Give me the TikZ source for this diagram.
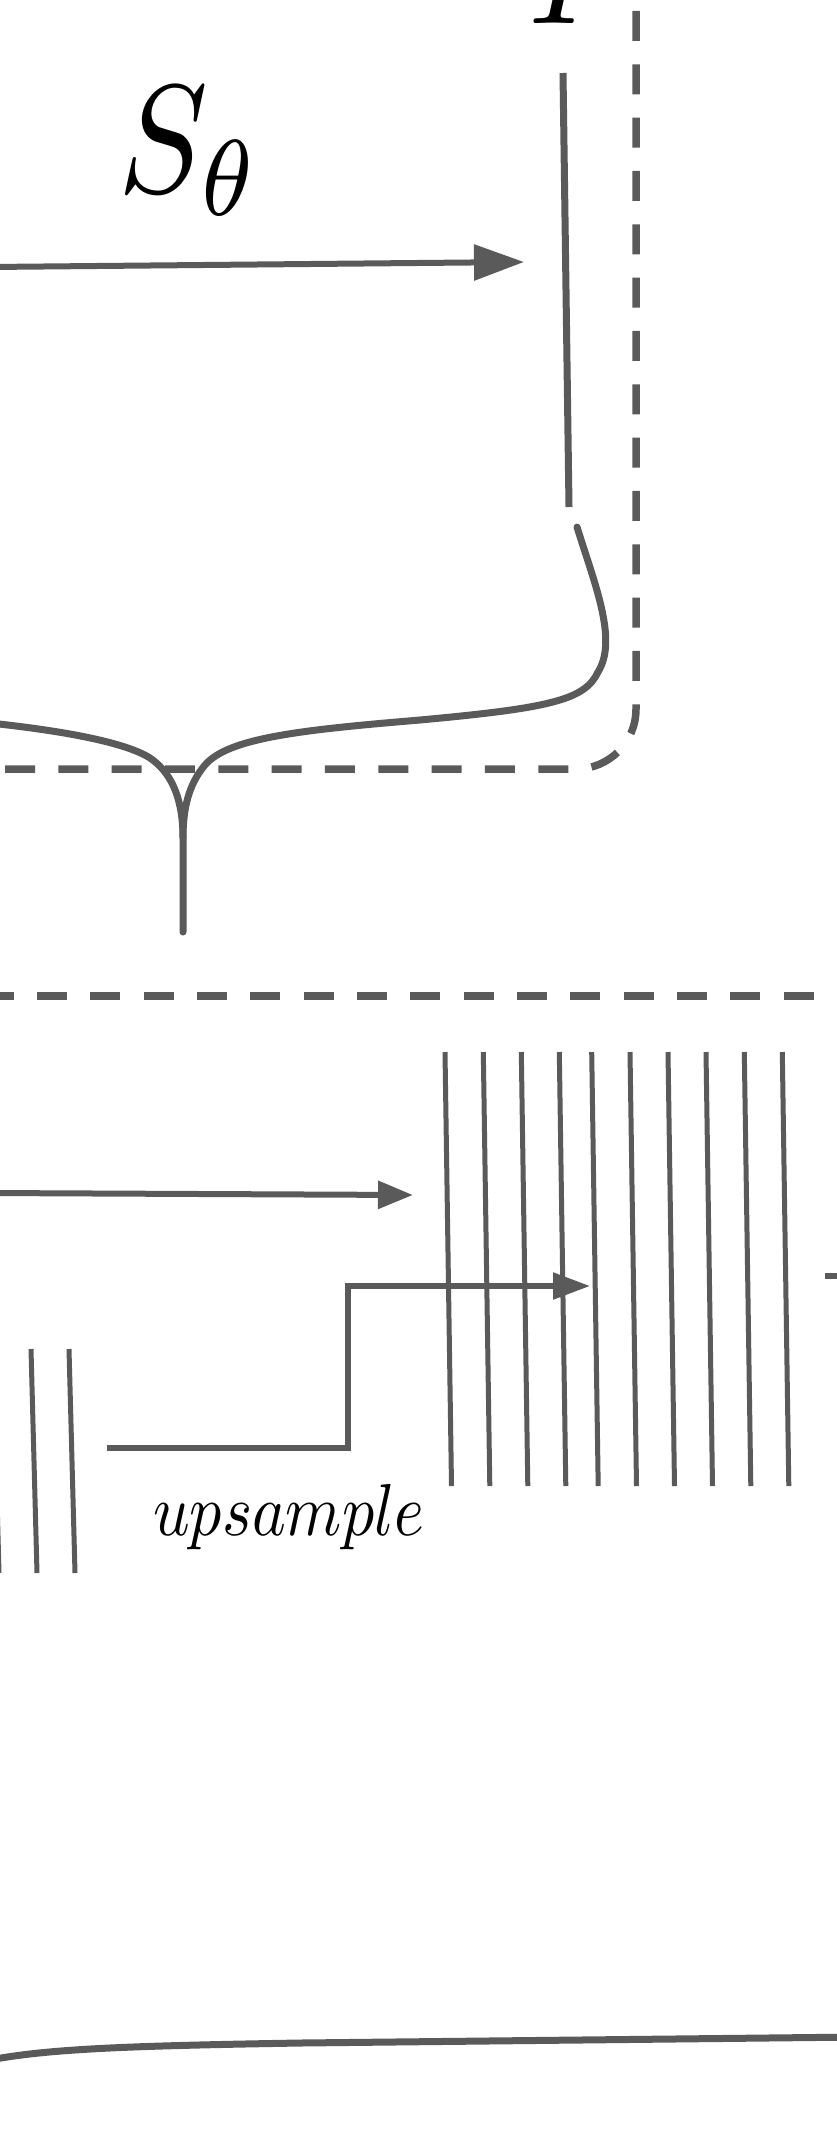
\documentclass[tikz,border=0pt]{standalone}
\usepackage{tikz}
\usetikzlibrary{arrows.meta}
\definecolor{ink}{HTML}{5A5A5A}
\tikzset{
  wire/.style={draw=ink, line width=6pt},
  strand/.style={draw=ink, line width=5pt},
  boxline/.style={draw=ink, line width=7.5pt, dash pattern=on 30pt off 23.33pt},
  brace/.style={draw=ink, line width=7pt, line cap=round},
  bigm/.style={inner sep=0pt, xscale=13.4, yscale=15.41, anchor=base west},
  labm/.style={inner sep=0pt, xscale=6.4, yscale=7.36, anchor=base west},
  every node/.style={text=black}
}

\begin{document}
\begin{tikzpicture}[x=1pt,y=-1pt]
  \useasboundingbox (0,0) rectangle (837,2149);

  % labels
  \node[bigm] (stheta) at (116,192) {$S_\theta$};
  \node[bigm] (img) at (527,24) {$I$};
  \node[labm] (up) at (152,1535) {$upsample$};

  % top: arrow into the image column
  \coordinate (src) at (-10,267);
  \coordinate (tgt) at (524,262);
  \draw[wire,-{Triangle[length=50pt,width=35pt]}] (src) -- (tgt);
  \coordinate (ctop) at (563,73);
  \coordinate (cbot) at (569,507);
  \draw[draw=ink, line width=7pt] (ctop) -- (cbot);

  % dashed boxes
  \draw[boxline, rounded corners=60pt] (5,769) -- (636,769) -- (636,-20);
  \draw[boxline] (-16.33,996) -- (860,996);

  % brace
  \coordinate (cusp) at (183,838);
  \coordinate (tip) at (183,932);
  \draw[brace] (577,527) .. controls (595,585) and (618,640) .. (598,672)
    .. controls (585,700) and (550,708) .. (420,720)
    .. controls (300,730) and (228,738) .. (205,765)
    .. controls (188,785) and (183,810) .. (cusp) -- (tip);
  \draw[brace] (cusp) .. controls (183,805) and (175,775) .. (150,758)
    .. controls (125,742) and (60,730) .. (-20,722);

  % channel strands
  \foreach \xt in {445,483.3,521.3,559.3,591.7,630,668,706,744.3,782.3}
    \draw[strand] (\xt,1052) -- (\xt+6.5,1486);
  \foreach \xt in {-7,31,69}
    \draw[strand] (\xt,1349) -- (\xt+6,1573);

  % skip and upsample arrows
  \coordinate (skipin) at (-10,1193);
  \coordinate (skipout) at (413,1195);
  \draw[wire,-{Triangle[length=35pt,width=27pt]}] (skipin) -- (skipout);
  \coordinate (upin) at (107,1448);
  \coordinate (upout) at (590,1286);
  \draw[draw=ink, line width=5.5pt,-{Triangle[length=37pt,width=26pt]}]
    (upin) -- (348,1448) -- (348,1286) -- (upout);
  \coordinate (stub) at (825,1276);
  \draw[draw=ink, line width=5.5pt] (stub) -- (860,1276);

  % lower brace arm
  \draw[brace] (-20,2062) .. controls (40,2049) and (120,2046) .. (300,2043) -- (860,2037);
\end{tikzpicture}
\end{document}
